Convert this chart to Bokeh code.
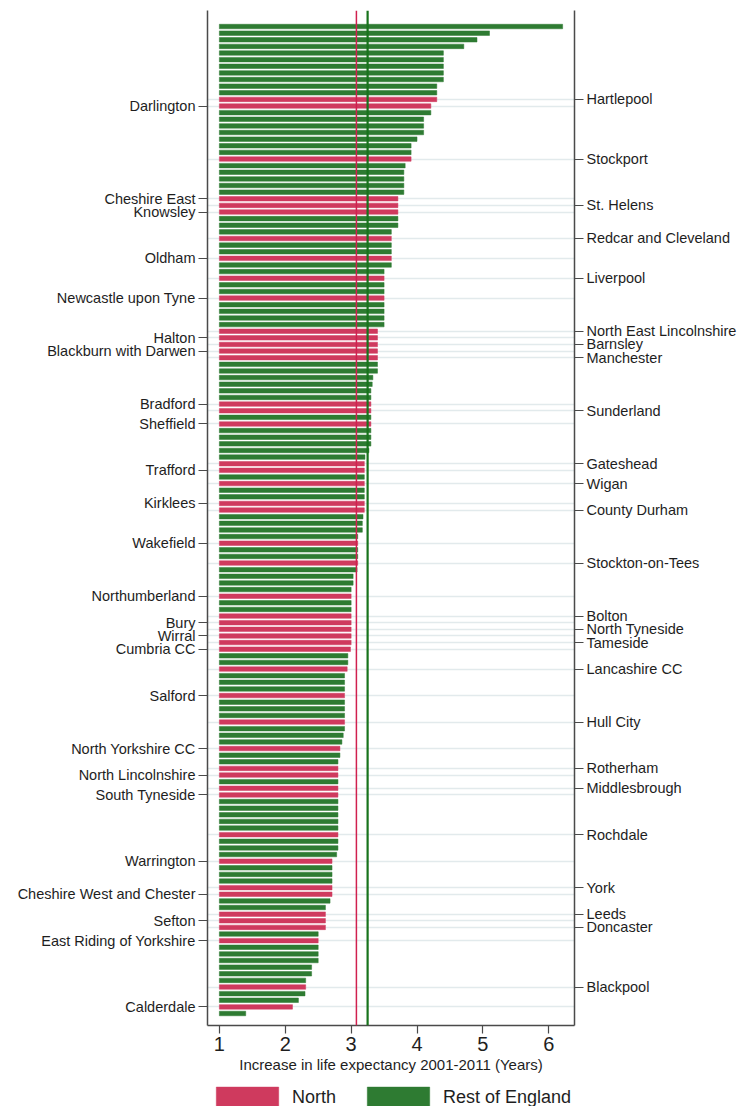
from bokeh.plotting import figure
from bokeh.layouts import column
from bokeh.models import (ColumnDataSource, FixedTicker, LinearAxis, Span,
                          Legend, LegendItem, Range1d)
from bokeh.embed import file_html
from bokeh.resources import INLINE

# ---------------- data (ranked from largest increase to smallest) ----------------
values = [
    6.21, 5.10, 4.91, 4.71, 4.40, 4.40, 4.40, 4.40, 4.40, 4.30,
    4.30, 4.30, 4.21, 4.21, 4.10, 4.10, 4.10, 4.00, 3.91, 3.91,
    3.91, 3.82, 3.80, 3.80, 3.80, 3.80, 3.71, 3.71, 3.71, 3.71,
    3.71, 3.61, 3.61, 3.61, 3.61, 3.61, 3.61, 3.50, 3.50, 3.50,
    3.50, 3.50, 3.50, 3.50, 3.50, 3.50, 3.40, 3.40, 3.40, 3.40,
    3.40, 3.40, 3.40, 3.33, 3.32, 3.30, 3.30, 3.30, 3.30, 3.30,
    3.30, 3.30, 3.30, 3.30, 3.27, 3.21, 3.20, 3.20, 3.20, 3.20,
    3.20, 3.20, 3.20, 3.20, 3.18, 3.17, 3.17, 3.10, 3.10, 3.10,
    3.10, 3.10, 3.09, 3.03, 3.03, 3.00, 3.00, 3.00, 3.00, 3.00,
    3.00, 3.00, 3.00, 3.00, 2.99, 2.95, 2.95, 2.94, 2.90, 2.90,
    2.90, 2.90, 2.90, 2.90, 2.90, 2.90, 2.90, 2.88, 2.86, 2.83,
    2.83, 2.80, 2.80, 2.80, 2.80, 2.80, 2.80, 2.80, 2.80, 2.80,
    2.80, 2.80, 2.80, 2.80, 2.80, 2.78, 2.71, 2.71, 2.71, 2.71,
    2.71, 2.71, 2.68, 2.61, 2.61, 2.61, 2.61, 2.50, 2.50, 2.50,
    2.50, 2.50, 2.40, 2.40, 2.31, 2.31, 2.30, 2.20, 2.11, 1.40,
]

region = [
    "R", "R", "R", "R", "R", "R", "R", "R", "R", "R",
    "R", "N", "N", "R", "R", "R", "R", "R", "R", "R",
    "N", "R", "R", "R", "R", "R", "N", "N", "N", "R",
    "R", "R", "N", "R", "R", "N", "R", "R", "N", "R",
    "R", "N", "R", "R", "R", "R", "N", "N", "N", "N",
    "N", "R", "R", "R", "R", "R", "R", "N", "N", "R",
    "N", "R", "R", "R", "R", "R", "N", "N", "R", "N",
    "R", "R", "N", "N", "R", "R", "R", "R", "N", "R",
    "R", "N", "R", "R", "R", "R", "N", "R", "R", "N",
    "N", "N", "N", "N", "N", "R", "R", "N", "R", "R",
    "R", "N", "R", "R", "R", "N", "R", "R", "R", "N",
    "R", "R", "N", "N", "R", "N", "N", "R", "R", "R",
    "R", "R", "N", "R", "R", "R", "N", "R", "R", "R",
    "N", "N", "R", "R", "N", "N", "N", "R", "N", "R",
    "R", "R", "R", "R", "R", "N", "R", "R", "N", "R",
]

# North authorities in rank order (labels alternate right / left)
north_names = [
    "Hartlepool", "Darlington", "Stockport", "Cheshire East", "St. Helens",
    "Knowsley", "Redcar and Cleveland", "Oldham", "Liverpool",
    "Newcastle upon Tyne", "North East Lincolnshire", "Halton", "Barnsley",
    "Blackburn with Darwen", "Manchester", "Bradford", "Sunderland",
    "Sheffield", "Gateshead", "Trafford", "Wigan", "Kirklees",
    "County Durham", "Wakefield", "Stockton-on-Tees", "Northumberland",
    "Bolton", "Bury", "North Tyneside", "Wirral", "Tameside", "Cumbria CC",
    "Lancashire CC", "Salford", "Hull City", "North Yorkshire CC",
    "Rotherham", "North Lincolnshire", "Middlesbrough", "South Tyneside",
    "Rochdale", "Warrington", "York", "Cheshire West and Chester", "Leeds",
    "Sefton", "Doncaster", "East Riding of Yorkshire", "Blackpool",
    "Calderdale",
]

north_mean = 3.08
rest_mean = 3.25
x_ticks = [1, 2, 3, 4, 5, 6]
x_label = "Increase in life expectancy 2001-2011 (Years)"
legend_labels = ["North", "Rest of England"]

# ---------------- build ----------------
RED = "#cf3a5e"
GREEN = "#2e7b32"
FONT = "Liberation Sans"
TXT = "#1e1e1e"
AX = "#4a4a4a"

rank = list(range(len(values)))
north_idx = [i for i in rank if region[i] == "N"]
rest_idx = [i for i in rank if region[i] == "R"]

src_n = ColumnDataSource(dict(y=north_idx, v=[values[i] for i in north_idx]))
src_r = ColumnDataSource(dict(y=rest_idx, v=[values[i] for i in rest_idx]))

right_ticks, left_ticks = [], []
right_lab, left_lab = {}, {}
for j, (i, name) in enumerate(zip(north_idx, north_names)):
    if j % 2 == 0:
        right_ticks.append(i)
        right_lab[i] = name
    else:
        left_ticks.append(i)
        left_lab[i] = name

n = len(values)
p = figure(width=741, height=1081, output_backend="svg", toolbar_location=None,
           x_range=Range1d(0.82, 6.39), y_range=Range1d(n - 1 + 1.81, -2.42),
           min_border_left=207, min_border_right=167, min_border_top=10,
           min_border_bottom=56)
p.outline_line_color = None
p.background_fill_color = "white"

rr = p.hbar(y="y", left=1, right="v", height=0.68, source=src_r,
            fill_color=GREEN, line_color=GREEN, line_width=0.5)
rn = p.hbar(y="y", left=1, right="v", height=0.68, source=src_n,
            fill_color=RED, line_color=RED, line_width=0.5)

p.add_layout(Span(location=north_mean, dimension="height",
                  line_color="#d0204f", line_width=1.5))
p.add_layout(Span(location=rest_mean, dimension="height",
                  line_color="#18731c", line_width=2.2))

# grid only at labelled (North) rows
p.xgrid.visible = False
p.ygrid.ticker = FixedTicker(ticks=north_idx)
p.ygrid.grid_line_color = "#e2eaec"
p.ygrid.grid_line_width = 1.5

def style_y(ax, ticks, labels, size):
    ax.ticker = FixedTicker(ticks=ticks)
    ax.major_label_overrides = labels
    ax.major_tick_out = 9
    ax.major_tick_in = 0
    ax.minor_tick_out = 0
    ax.minor_tick_in = 0
    ax.major_tick_line_color = AX
    ax.major_tick_line_width = 1.2
    ax.axis_line_color = AX
    ax.axis_line_width = 1.5
    ax.major_label_standoff = 3
    ax.major_label_text_font = FONT
    ax.major_label_text_font_size = size
    ax.major_label_text_color = TXT

style_y(p.yaxis[0], left_ticks, left_lab, "14.5px")
ax_r = LinearAxis()
style_y(ax_r, right_ticks, right_lab, "14.5px")
p.add_layout(ax_r, "right")

xa = p.xaxis[0]
xa.ticker = FixedTicker(ticks=x_ticks)
xa.major_tick_out = 8
xa.major_tick_in = 0
xa.minor_tick_out = 0
xa.minor_tick_in = 0
xa.axis_line_color = AX
xa.axis_line_width = 1.5
xa.major_tick_line_color = AX
xa.major_tick_line_width = 1.2
xa.major_label_text_font = FONT
xa.major_label_text_font_size = "20px"
xa.major_label_text_color = TXT
xa.major_label_standoff = 3
xa.axis_label = x_label
xa.axis_label_text_font = FONT
xa.axis_label_text_font_size = "15px"
xa.axis_label_text_font_style = "normal"
xa.axis_label_text_color = TXT
xa.axis_label_standoff = 2

# ---------------- legend strip below the chart ----------------
lg = figure(width=741, height=25, output_backend="svg", toolbar_location=None,
            x_range=Range1d(0, 1), y_range=Range1d(0, 1),
            x_axis_type=None, y_axis_type=None,
            min_border_left=207, min_border_right=167, min_border_top=0,
            min_border_bottom=0)
lg.outline_line_color = None
lg.xgrid.visible = False
lg.ygrid.visible = False
# keys for the legend: one bar each, kept outside the strip's visible range
key_src = ColumnDataSource(dict(y=[-10], v=[2]))
ln = lg.hbar(y="y", left=1, right="v", height=0.5, source=key_src,
             fill_color=RED, line_color=RED, line_width=0.5)
lr = lg.hbar(y="y", left=1, right="v", height=0.5, source=key_src,
             fill_color=GREEN, line_color=GREEN, line_width=0.5)

legend = Legend(items=[LegendItem(label=legend_labels[0], renderers=[ln]),
                       LegendItem(label=legend_labels[1], renderers=[lr])],
                orientation="horizontal", location=(1, -4),
                glyph_width=78, glyph_height=26, label_height=26,
                label_standoff=6, spacing=23,
                padding=0, margin=0, border_line_color=None,
                background_fill_alpha=0, label_text_font=FONT,
                label_text_font_size="18px", label_text_color=TXT)
lg.add_layout(legend)

layout = column(p, lg, spacing=0)
open("out.html", "w").write(file_html(layout, INLINE))
